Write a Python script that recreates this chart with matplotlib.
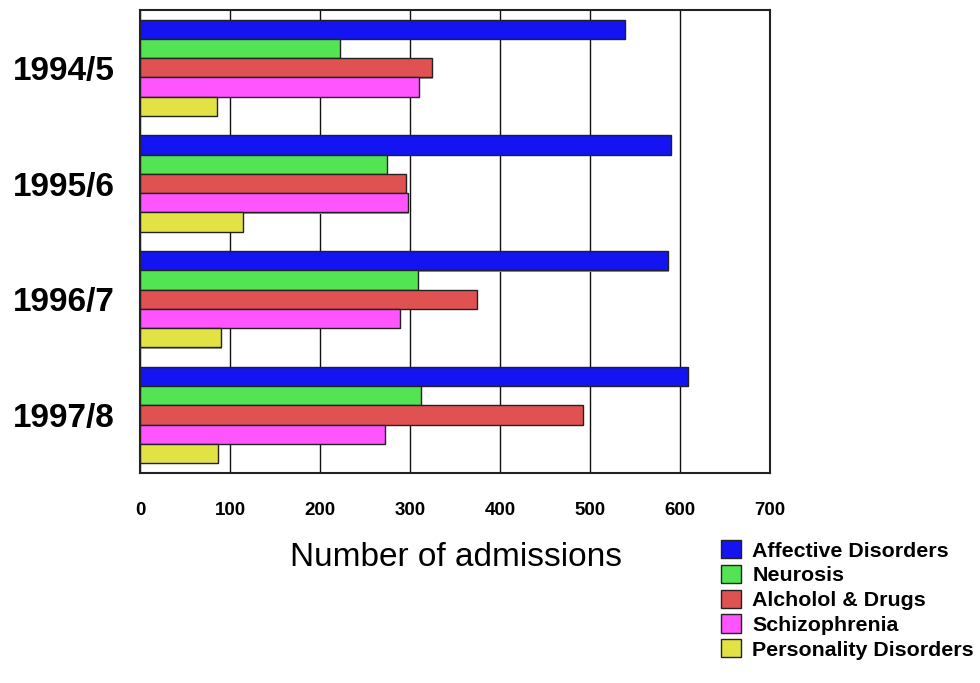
import matplotlib
matplotlib.use("Agg")
import matplotlib.pyplot as plt
import numpy as np

years = ["1994/5", "1995/6", "1996/7", "1997/8"]
series = ["Affective Disorders", "Neurosis", "Alcholol & Drugs", "Schizophrenia", "Personality Disorders"]
affective = [539, 590, 587, 609]
neurosis = [222, 274, 309, 312]
alcohol = [324, 296, 374, 492]
schizo = [310, 298, 289, 272]
personality = [86, 114, 90, 87]
xticks = [0, 100, 200, 300, 400, 500, 600, 700]

values = [affective, neurosis, alcohol, schizo, personality]
colors = ["#1414F2", "#52E452", "#E05252", "#FF55FF", "#E2E244"]

plt.rcParams['font.family'] = ['Liberation Sans', 'DejaVu Sans']

fig = plt.figure(figsize=(9.8, 6.83), dpi=100)
ax = fig.add_axes([140/980, 1-472.7/683, 630/980, (472.7-10)/683])

h = 1/6
y0 = np.arange(len(years))
for j, (vals, c, name) in enumerate(zip(values, colors, series)):
    ypos = y0 + (j - 2) * h
    # shadow
    ax.barh(ypos + 0.012, np.array(vals) + 1.2, height=h, left=0, color="#9a9a9a",
            edgecolor="none", zorder=2)
    ax.barh(ypos, vals, height=h, color=c, edgecolor="#222222", linewidth=1.0,
            label=name, zorder=3)

ax.set_xlim(0, 700)
ax.set_ylim(3.5, -0.5)
ax.set_xticks(xticks)
ax.set_xticklabels([str(t) for t in xticks], fontsize=13.5, fontweight='bold')
ax.set_yticks(y0)
ax.set_yticklabels(years, fontsize=24, fontweight='bold')
ax.tick_params(axis='x', length=0, pad=21)
ax.tick_params(axis='y', length=0, pad=18)
ax.grid(axis='x', color='#111111', linewidth=1.0, zorder=1)
ax.set_axisbelow(True)
for s in ax.spines.values():
    s.set_linewidth(1.5)
    s.set_color('#222222')
    s.set_zorder(4)

fig.text(456/980, 1-558/683, "Number of admissions", fontsize=24,
         ha='center', va='center')

leg = fig.legend(loc='upper left', bbox_to_anchor=(721/980, 1-540/683),
                 frameon=False, prop={'size': 15.4, 'weight': 'bold'},
                 handlelength=0.94, handleheight=0.94, handletextpad=0.53,
                 labelspacing=0.2, borderpad=0, borderaxespad=0)

fig.savefig("out.png", dpi=100)
